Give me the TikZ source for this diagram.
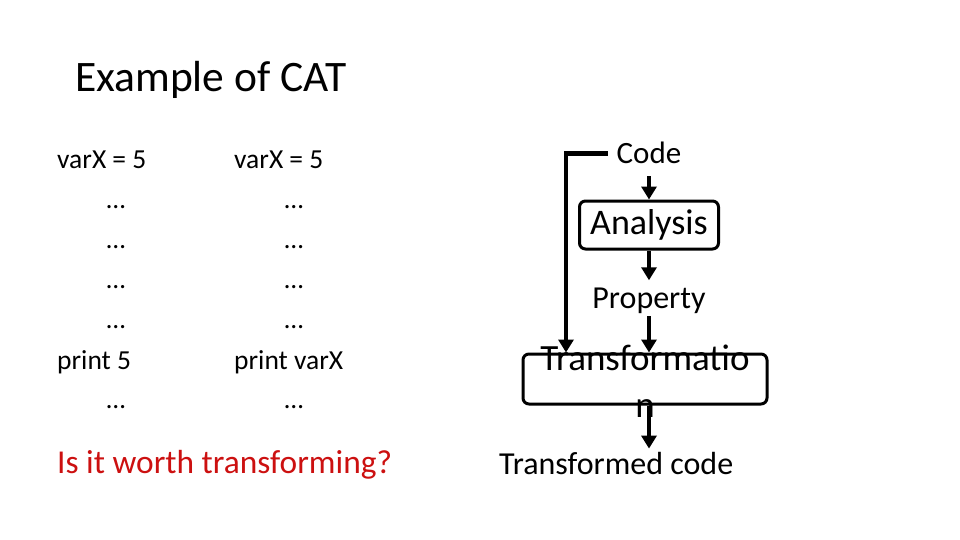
\documentclass[tikz,border=0pt]{standalone}
\usepackage{fontspec}
\setmainfont{Carlito}
\usetikzlibrary{arrows.meta}
\definecolor{askRed}{RGB}{204,16,16}
\tikzset{
    every node/.append style={inner sep=0pt},
    codeline/.style={font=\fontsize{27.5}{33}\selectfont,anchor=base west},
    dotline/.style={font=\fontsize{27}{33}\selectfont,anchor=base},
    stagebox/.style={rectangle,draw=black,line width=3pt,rounded corners=6pt},
    stagelbl/.style={font=\fontsize{32}{38}\selectfont,inner sep=3pt},
    flow/.style={-{Triangle[length=13pt,width=15pt]},line width=4.5pt}
}
\begin{document}
\begin{tikzpicture}[x=1pt,y=-1pt]
    \useasboundingbox (0,0) rectangle (960,540);
    \node[anchor=base west,font=\fontsize{43.5}{50}\selectfont] (title) at (75,92) {Example of CAT};

    % original program
    \node[codeline] (lvar)   at ( 57,168) {varX = 5};
    \node[dotline]  (ldotA)  at (116,208) {…};
    \node[dotline]  (ldotB)  at (116,248) {…};
    \node[dotline]  (ldotC)  at (116,288) {…};
    \node[dotline]  (ldotD)  at (116,328) {…};
    \node[codeline] (lprint) at ( 57,369) {print 5};
    \node[dotline]  (ldotE)  at (116,408) {…};

    % program before transformation
    \node[codeline] (rvar)   at (234,168) {varX = 5};
    \node[dotline]  (rdotA)  at (294,208) {…};
    \node[dotline]  (rdotB)  at (294,248) {…};
    \node[dotline]  (rdotC)  at (294,288) {…};
    \node[dotline]  (rdotD)  at (294,328) {…};
    \node[codeline] (rprint) at (234,369) {print varX};
    \node[dotline]  (rdotE)  at (294,408) {…};

    \node[anchor=base west,text=askRed,font=\fontsize{33.4}{40}\selectfont] (ask) at (57,473) {Is it worth transforming?};

    % pipeline
    \node[stagelbl,font=\fontsize{31}{37}\selectfont,anchor=base] (code) at (649,164) {Code};
    \node[stagebox,minimum width=139pt,minimum height=48pt,font=\fontsize{36}{42}\selectfont] (analysis) at (649,225) {Analysis};
    \node[stagelbl,anchor=base] (property) at (649,308) {Property};
    \node[stagebox,minimum width=244pt,minimum height=50pt] (trans) at (645,379) {};
    \node[align=center,font=\fontsize{37}{47}\selectfont] (translbl) at (645,381) {Transformatio\\n};
    \node[stagelbl,anchor=base west] (tcode) at (496,474) {Transformed code};
    \coordinate (loop) at (566,0);

    \draw[flow,shorten <=9pt] (code) -- (analysis);
    \draw[flow,shorten >=4pt] (analysis) -- (analysis |- property.north);
    \draw[flow] (property) -- (property |- trans.north);
    \draw[flow] (trans.south -| property) -- (property |- tcode.north);
    \draw[flow,shorten <=6pt] (code.west) -| (loop |- trans.north);
\end{tikzpicture}
\end{document}
